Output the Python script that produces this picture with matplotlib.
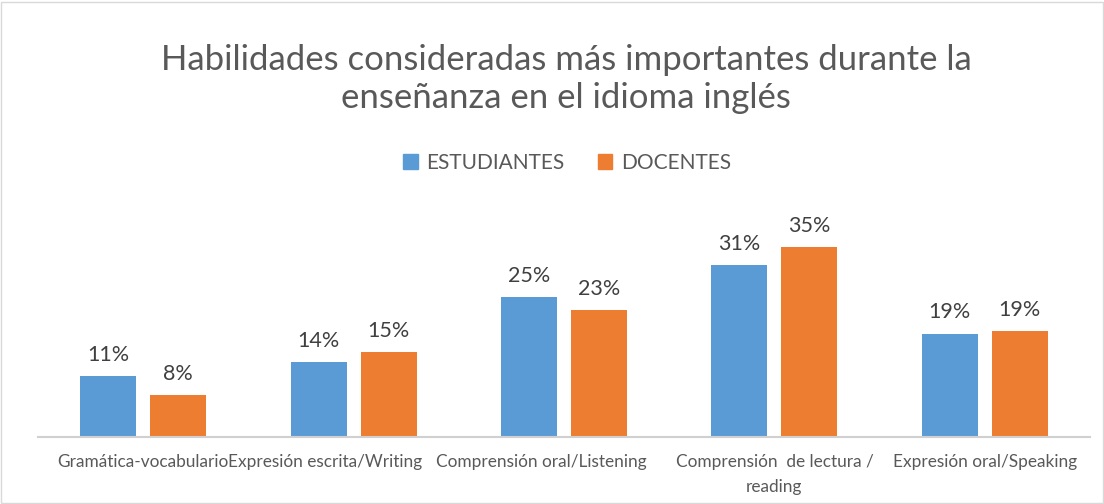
import matplotlib.pyplot as plt
import matplotlib.patches as mpatches
import matplotlib.transforms as mtransforms
import numpy as np

# Data
categories = [
    "Gramática-vocabulario",
    "Expresión escrita/Writing",
    "Comprensión oral/Listening",
    "Comprensión  de lectura /\nreading",
    "Expresión oral/Speaking",
]
estudiantes = [11.1, 13.7, 25.4, 31.3, 18.8]
docentes = [7.7, 15.4, 23.1, 34.6, 19.2]
series_names = ["ESTUDIANTES", "DOCENTES"]

blue = "#5b9bd5"
orange = "#ed7d31"
text_color = "#595959"

plt.rcParams["font.family"] = ["Lato", "DejaVu Sans"]

fig = plt.figure(figsize=(11.04, 5.04), dpi=100)
ax = fig.add_axes([38 / 1104, 67 / 504, 1052 / 1104, 220 / 504])

x = np.arange(len(categories))
width = 0.266
offset = 0.166

b1 = ax.bar(x - offset, estudiantes, width, color=blue, label=series_names[0])
b2 = ax.bar(x + offset, docentes, width, color=orange, label=series_names[1])

for bars, vals in ((b1, estudiantes), (b2, docentes)):
    for bar, v in zip(bars, vals):
        ax.annotate(f"{round(v):.0f}%", (bar.get_x() + bar.get_width() / 2, v),
                    xytext=(0, 8), textcoords="offset points",
                    ha="center", va="bottom", fontsize=15.5, color="#404040")

ax.set_xlim(-0.5, len(categories) - 0.5)
ax.set_ylim(0, 40)
ax.set_yticks([])
ax.set_xticks(x)
ax.set_xticklabels(categories, fontsize=12.4, color=text_color, linespacing=1.7)
ax.tick_params(axis="x", length=0, pad=12)
for s in ["top", "right", "left"]:
    ax.spines[s].set_visible(False)
ax.spines["bottom"].set_color("#d0d0d0")
ax.spines["bottom"].set_linewidth(1.5)

# the long labels in the middle sit a bit to the left in the original
shifts_px = [0, -29, -23, 0, 0]
for lbl, dx in zip(ax.get_xticklabels(), shifts_px):
    lbl.set_transform(lbl.get_transform() + mtransforms.Affine2D().translate(dx, 0))

fig.text(566 / 1104, 1 - 79 / 504, "Habilidades consideradas más importantes durante la\nenseñanza en el idioma inglés",
         ha="center", va="center", fontsize=25, color=text_color, linespacing=1.2)

fig.legend(handles=[mpatches.Patch(color=blue, label=series_names[0]),
                    mpatches.Patch(color=orange, label=series_names[1])],
           loc="center", bbox_to_anchor=(567 / 1104, 1 - 163 / 504), ncol=2, frameon=False,
           fontsize=15, handlelength=0.7, handleheight=0.7, columnspacing=1.6,
           handletextpad=0.4, labelcolor=text_color)

fig.patches.append(mpatches.Rectangle((0.001, 0.001), 0.998, 0.996, transform=fig.transFigure,
                                      fill=False, edgecolor="#d9d9d9", linewidth=1))

fig.savefig("out.png", dpi=100)
